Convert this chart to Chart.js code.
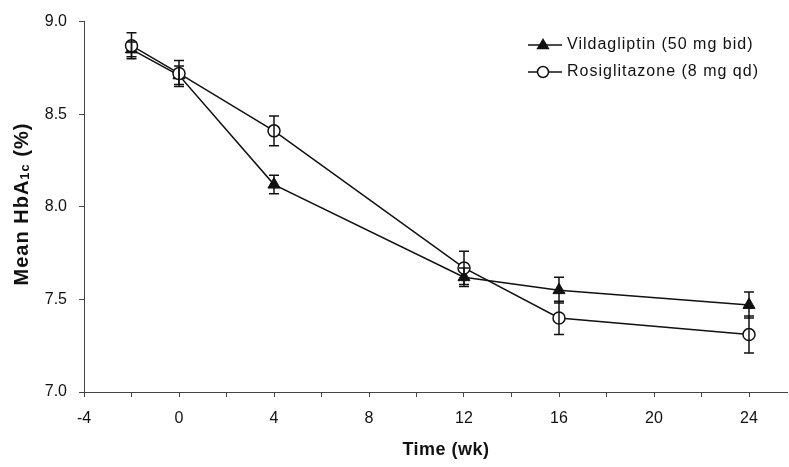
<!DOCTYPE html>
<html>
<head>
<meta charset="utf-8">
<script src="https://cdn.jsdelivr.net/npm/chart.js@4.4.1/dist/chart.umd.min.js"></script>
<style>
html,body{margin:0;padding:0;background:#fff;}
#wrap{width:789px;height:467px;position:relative;}
</style>
</head>
<body>
<div id="wrap"><canvas id="c" width="789" height="467"></canvas></div>
<script>
const weeks = [-2, 0, 4, 12, 16, 24];
const vildaMean = [8.85, 8.71, 8.12, 7.62, 7.55, 7.47];
const vildaSE   = [0.04, 0.05, 0.05, 0.05, 0.07, 0.07];
const rosiMean  = [8.87, 8.72, 8.41, 7.67, 7.40, 7.31];
const rosiSE    = [0.07, 0.07, 0.08, 0.09, 0.09, 0.10];
const seriesNames = ['Vildagliptin (50 mg bid)', 'Rosiglitazone (8 mg qd)'];
const xTickValues = [-4, -2, 0, 2, 4, 6, 8, 10, 12, 14, 16, 18, 20, 22, 24];
const xLabelValues = [-4, 0, 4, 8, 12, 16, 20, 24];
const yTickValues = [7.0, 7.5, 8.0, 8.5, 9.0];

const FONT = '"Liberation Sans", Arial, sans-serif';
const INK = '#111';

const errorBars = {
  id: 'errorBars',
  afterDatasetsDraw(chart) {
    const ctx = chart.ctx;
    const xs = chart.scales.x, ys = chart.scales.y;
    ctx.save();
    ctx.strokeStyle = INK;
    ctx.lineWidth = 1.5;
    chart.data.datasets.forEach((ds) => {
      ds.data.forEach((p, i) => {
        const se = ds.se[i];
        const px = xs.getPixelForValue(p.x);
        const top = ys.getPixelForValue(p.y + se);
        const bot = ys.getPixelForValue(p.y - se);
        ctx.beginPath();
        ctx.moveTo(px, top); ctx.lineTo(px, bot);
        ctx.moveTo(px - 5, top); ctx.lineTo(px + 5, top);
        ctx.moveTo(px - 5, bot); ctx.lineTo(px + 5, bot);
        ctx.stroke();
      });
    });
    ctx.restore();
  }
};

function drawTri(ctx, x, y, r) {
  ctx.beginPath();
  ctx.moveTo(x, y - r);
  ctx.lineTo(x + r * 0.95, y + r * 0.6);
  ctx.lineTo(x - r * 0.95, y + r * 0.6);
  ctx.closePath();
  ctx.fillStyle = INK; ctx.fill();
}

const overlay = {
  id: 'overlay',
  afterDraw(chart) {
    const ctx = chart.ctx;
    ctx.save();
    // legend
    ctx.strokeStyle = INK; ctx.lineWidth = 1.5;
    ctx.font = '16px ' + FONT;
    ctx.fillStyle = INK;
    ctx.textBaseline = 'middle';
    const lx0 = 528, lx1 = 562, lm = 543;
    const ly = [45, 72];
    ly.forEach((y, k) => {
      ctx.beginPath(); ctx.moveTo(lx0, y); ctx.lineTo(lx1, y); ctx.stroke();
      if (k === 0) {
        drawTri(ctx, lm, y, 7);
      } else {
        ctx.beginPath(); ctx.arc(lm, y, 5.5, 0, Math.PI * 2);
        ctx.fillStyle = '#fff'; ctx.fill(); ctx.stroke();
      }
      ctx.fillStyle = INK;
      ctx.textAlign = 'left';
      ctx.letterSpacing = '1px';
      ctx.fillText(seriesNames[k], 567, y);
      ctx.letterSpacing = '0px';
    });
    // x title
    ctx.font = 'bold 18px ' + FONT;
    ctx.textAlign = 'center';
    ctx.letterSpacing = '0.5px';
    ctx.fillText('Time (wk)', 446, 450);
    // y title with subscript
    ctx.translate(22, 204);
    ctx.rotate(-Math.PI / 2);
    ctx.letterSpacing = '1px';
    const big = 'bold 20px ' + FONT, small = 'bold 13px ' + FONT;
    const parts = [['Mean HbA', big, 0], ['1c', small, 3], [' (%)', big, 0]];
    let total = 0;
    parts.forEach(p => { ctx.font = p[1]; total += ctx.measureText(p[0]).width; });
    let cx = -total / 2;
    ctx.textAlign = 'left';
    parts.forEach(p => {
      ctx.font = p[1];
      ctx.fillText(p[0], cx, p[2]);
      cx += ctx.measureText(p[0]).width;
    });
    ctx.restore();
  }
};

new Chart(document.getElementById('c'), {
  type: 'scatter',
  data: {
    datasets: [
      {
        label: seriesNames[0],
        data: weeks.map((w, i) => ({ x: w, y: vildaMean[i] })),
        se: vildaSE,
        showLine: true,
        borderColor: INK, borderWidth: 1.5,
        pointStyle: 'triangle', pointRadius: 7,
        pointBackgroundColor: INK, pointBorderColor: INK, pointBorderWidth: 1,
        order: 2
      },
      {
        label: seriesNames[1],
        data: weeks.map((w, i) => ({ x: w, y: rosiMean[i] })),
        se: rosiSE,
        showLine: true,
        borderColor: INK, borderWidth: 1.5,
        pointStyle: 'circle', pointRadius: 6,
        pointBackgroundColor: '#fff', pointBorderColor: INK, pointBorderWidth: 1.5,
        order: 1
      }
    ]
  },
  options: {
    responsive: false,
    animation: false,
    layout: { autoPadding: false, padding: { top: 21, right: 2, left: 0, bottom: 0 } },
    plugins: { legend: { display: false }, tooltip: { enabled: false } },
    scales: {
      x: {
        type: 'linear', min: -4, max: 25.6,
        afterBuildTicks(s) { s.ticks = xTickValues.map(v => ({ value: v })); },
        afterFit(s) { s.height = 75; s.paddingLeft = 0; s.paddingRight = 0; },
        grid: { drawOnChartArea: false, drawTicks: true, tickLength: 5, color: '#444' },
        border: { color: '#444', width: 1 },
        ticks: {
          autoSkip: false, maxRotation: 0, padding: 12,
          color: INK, font: { family: FONT, size: 16 },
          callback: v => xLabelValues.includes(v) ? String(v) : ''
        }
      },
      y: {
        type: 'linear', min: 7.0, max: 9.0,
        afterBuildTicks(s) { s.ticks = yTickValues.map(v => ({ value: v })); },
        afterFit(s) { s.width = 84; },
        grid: { drawOnChartArea: false, drawTicks: true, tickLength: 5, color: '#444' },
        border: { color: '#444', width: 1 },
        ticks: {
          padding: 12, color: INK, font: { family: FONT, size: 16 },
          callback: v => v.toFixed(1)
        }
      }
    }
  },
  plugins: [errorBars, overlay]
});
</script>
</body>
</html>
